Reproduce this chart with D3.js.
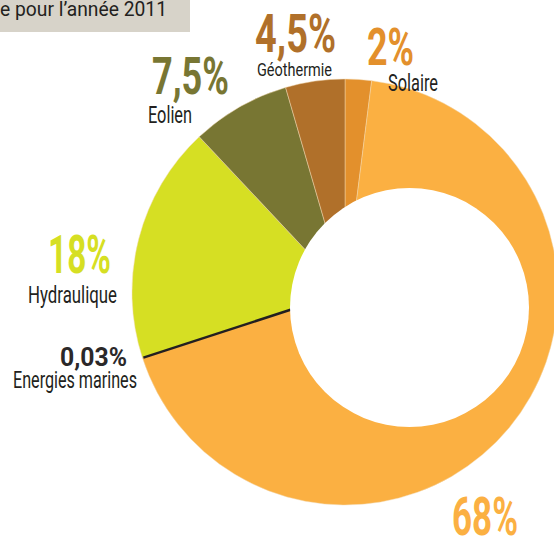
<!DOCTYPE html>
<html lang="fr">
	<head>
		<meta charset="utf-8">
		<title>Répartition pour l'année 2011</title>
		<script type="text/javascript" src="https://cdn.jsdelivr.net/npm/d3@7"></script>
		<style type="text/css">
			body { margin: 0; background: #fff; }
			text { font-family: Roboto, "Liberation Sans", sans-serif; }
		</style>
	</head>
	<body>
		<script type="text/javascript">

			//Data, clockwise from 12 o'clock
			let categories = ["Solaire", "Biomasse", "Energies marines", "Hydraulique", "Eolien", "Géothermie"];
			let values = [2, 68, 0.03, 18, 7.5, 4.5];
			let colors = ["#e3902c", "#fbb042", "#231f20", "#d6df23", "#787633", "#b0702a"];
			let valueColors = ["#e3902c", "#fbb042", "#2b2829", "#d6df23", "#787633", "#b0702a"];
			let showName = [true, false, true, true, true, true];
			let title = "e pour l\u2019année 2011";

			//Width and height
			let w = 554;
			let h = 539;

			//Pie geometry
			let cx = 345, cy = 292, outerR = 213;
			let holeX = 409.5, holeY = 307.5, holeR = 119.5;

			//Label layout: [x, baseline, width, font size]
			let layout = {
				"Solaire":          { v: [367, 65, 47, 52],  n: [388, 91, 50, 24] },
				"Biomasse":         { v: [452, 535, 66, 53] },
				"Energies marines": { v: [60, 366, 67, 25],  n: [13, 388, 124, 23] },
				"Hydraulique":      { v: [48, 273, 63, 54],  n: [28, 303, 89, 24] },
				"Eolien":           { v: [152, 94, 77, 52],  n: [148, 122.5, 44, 24] },
				"Géothermie":       { v: [255, 52, 81, 54],  n: [257, 76, 75, 18] }
			};

			let fmt = (v)=> { return String(v).replace(".", ",") + "%"; };

			let svg = d3.select("body")
						.append("svg")
						.attr("width", w)
						.attr("height", h);

			//Title strip
			svg.append("rect")
			   .attr("x", 0)
			   .attr("y", 0)
			   .attr("width", 190)
			   .attr("height", 32)
			   .style("fill", "#d7d3c9");

			svg.append("text")
			   .attr("x", 0)
			   .attr("y", 16)
			   .attr("textLength", 167)
			   .attr("lengthAdjust", "spacingAndGlyphs")
			   .style("font-size", "20px")
			   .style("fill", "#231f20")
			   .text(title);

			let pie = d3.pie()
						.sort(null)
						.startAngle(0)
						.endAngle(2 * Math.PI);

			let arcs = pie(values);

			let arc = d3.arc()
						.innerRadius(0)
						.outerRadius(outerR);

			let g = svg.append("g")
					   .attr("transform", "translate(" + cx + "," + cy + ")");

			g.selectAll("path")
			 .data(arcs)
			 .enter()
			 .append("path")
			 .attr("d", arc)
			 .style("fill", (d, i)=> { return colors[i]; })
			 .style("stroke", "#f3d9b0")
			 .style("stroke-width", 0.6)
			 .style("stroke-opacity", (d, i)=> { return values[i] < 1 ? 0 : 0.8; });

			//Tiny slice drawn as a dark rule
			arcs.forEach((d, i)=> {
				if (values[i] < 1) {
					let a = (d.startAngle + d.endAngle) / 2;
					g.append("line")
					 .attr("x1", 0)
					 .attr("y1", 0)
					 .attr("x2", Math.sin(a) * (outerR - 1))
					 .attr("y2", -Math.cos(a) * (outerR - 1))
					 .style("stroke", colors[i])
					 .style("stroke-width", 2.5);
				}
			});

			//Hole
			svg.append("circle")
			   .attr("cx", holeX)
			   .attr("cy", holeY)
			   .attr("r", holeR)
			   .style("fill", "#fff");

			//Labels
			categories.forEach((c, i)=> {
				let L = layout[c];
				svg.append("text")
				   .attr("x", L.v[0])
				   .attr("y", L.v[1])
				   .attr("textLength", L.v[2])
				   .attr("lengthAdjust", "spacingAndGlyphs")
				   .style("font-size", L.v[3] + "px")
				   .style("font-weight", 700)
				   .style("fill", valueColors[i])
				   .text(fmt(values[i]));
				if (showName[i]) {
					svg.append("text")
					   .attr("x", L.n[0])
					   .attr("y", L.n[1])
					   .attr("textLength", L.n[2])
					   .attr("lengthAdjust", "spacingAndGlyphs")
					   .style("font-size", L.n[3] + "px")
					   .style("fill", "#231f20")
					   .text(c);
				}
			});

		</script>
	</body>
</html>
